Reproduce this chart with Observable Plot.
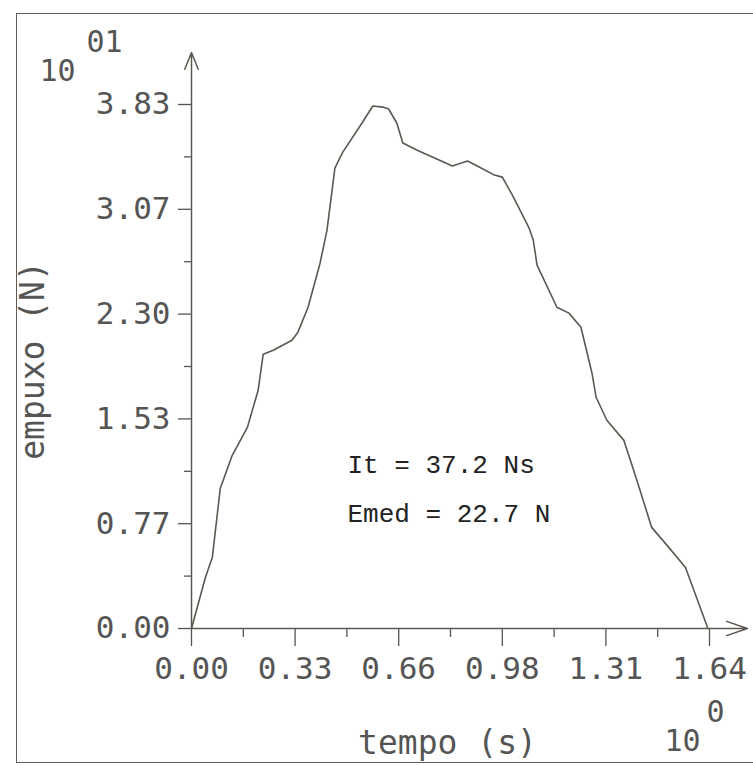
<!DOCTYPE html>
<html><head><meta charset="utf-8">
<script src="https://cdn.jsdelivr.net/npm/d3@7"></script>
<script src="https://cdn.jsdelivr.net/npm/@observablehq/plot@0.6"></script>
<style>
html,body{margin:0;padding:0;background:#fff;}
#wrap{position:relative;width:753px;height:765px;overflow:hidden;}
#frame{position:absolute;left:16px;top:13px;width:737px;height:750px;border:1.5px solid #5f5c55;border-right:none;box-sizing:border-box;pointer-events:none;}
#wrap svg{position:absolute;left:0;top:0;}
</style></head><body><div id="wrap"><div id="frame"></div></div>
<script>
// tempo (s), empuxo (x10 N)
const time = [0, 0.044, 0.066, 0.091, 0.129, 0.177, 0.211, 0.227, 0.259, 0.318, 0.337, 0.369, 0.407, 0.429, 0.454, 0.479, 0.542, 0.574, 0.606, 0.624, 0.650, 0.669, 0.713, 0.826, 0.874, 0.911, 0.959, 0.984, 1.016, 1.069, 1.082, 1.094, 1.157, 1.195, 1.233, 1.268, 1.281, 1.315, 1.369, 1.407, 1.457, 1.511, 1.564, 1.635];
const thrust = [0, 0.373, 0.520, 1.024, 1.266, 1.470, 1.741, 2.005, 2.034, 2.107, 2.166, 2.348, 2.670, 2.912, 3.365, 3.482, 3.702, 3.819, 3.811, 3.797, 3.695, 3.548, 3.497, 3.380, 3.417, 3.373, 3.314, 3.299, 3.168, 2.926, 2.839, 2.656, 2.348, 2.305, 2.202, 1.866, 1.690, 1.522, 1.375, 1.105, 0.739, 0.593, 0.446, 0];

const xTickValues = [0, 0.328, 0.656, 0.984, 1.312, 1.64];
const xTickLabels = ["0.00", "0.33", "0.66", "0.98", "1.31", "1.64"];
const xMinorTicks = [0.164, 0.492, 0.82, 1.148, 1.476];
const yTickValues = [0, 0.766, 1.532, 2.298, 3.064, 3.83];
const yTickLabels = ["0.00", "0.77", "1.53", "2.30", "3.07", "3.83"];
const yMinorTicks = [0.383, 1.149, 1.915, 2.681, 3.447];
const axisEnd = {x: 1.76, y: 4.21};
const notes = ["It = 37.2 Ns", "Emed = 22.7 N"];
const xTitle = "tempo (s)";
const yTitle = "empuxo (N)";
const yExponent = ["10", "01"];
const xExponent = ["10", "0"];

const data = time.map((t, i) => ({t, v: thrust[i]}));
const xLab = new Map(xTickValues.map((d, i) => [d, xTickLabels[i]]));
const yLab = new Map(yTickValues.map((d, i) => [d, yTickLabels[i]]));

const ink = "#5b5850";
const txt = "#555";
const plotter = "DejaVu Sans Mono";

const chart = Plot.plot({
  width: 753,
  height: 765,
  marginLeft: 191,
  marginRight: 44,
  marginTop: 104,
  marginBottom: 137,
  style: {background: "transparent", color: txt},
  x: {domain: [0, 1.64]},
  y: {domain: [0, 3.83]},
  marks: [
    Plot.axisX(xTickValues, {tickSize: 18, tickPadding: 10, tickFormat: d => xLab.get(d), fontSize: 31, fontFamily: plotter, color: txt, strokeWidth: 1.3, label: null}),
    Plot.axisX(xMinorTicks, {tickSize: 9, tickFormat: () => "", color: txt, strokeWidth: 1.3, label: null}),
    Plot.axisY(yTickValues, {tickSize: 13, tickPadding: 8, tickFormat: d => yLab.get(d), fontSize: 31, fontFamily: plotter, color: txt, strokeWidth: 1.3, label: null}),
    Plot.axisY(yMinorTicks, {tickSize: 7, tickFormat: () => "", color: txt, strokeWidth: 1.3, label: null}),
    Plot.arrow([0], {x1: 0, y1: 0, x2: 0, y2: axisEnd.y, stroke: ink, strokeWidth: 1.5, headLength: 18, headAngle: 44}),
    Plot.arrow([0], {x1: 0, y1: 0, x2: axisEnd.x, y2: 0, stroke: ink, strokeWidth: 1.5, headLength: 22, headAngle: 38}),
    Plot.line(data, {x: "t", y: "v", stroke: ink, strokeWidth: 1.6, strokeLinejoin: "round"}),
    Plot.text([notes.join("\n")], {frameAnchor: "top-left", textAnchor: "start", lineAnchor: "bottom", lineHeight: 1.88, dx: 156, dy: 417, fontSize: 26, fontFamily: "Liberation Mono", fill: "#222"}),
    Plot.text([xTitle], {frameAnchor: "bottom", textAnchor: "middle", lineAnchor: "bottom", dx: -3, dy: 125, fontSize: 33, fontFamily: plotter, fill: txt}),
    Plot.text([yTitle], {frameAnchor: "left", textAnchor: "middle", lineAnchor: "middle", rotate: -90, dx: -158, dy: -6, fontSize: 33, fontFamily: plotter, fill: txt}),
    Plot.text([yExponent[0]], {frameAnchor: "top-left", textAnchor: "middle", lineAnchor: "middle", dx: -134, dy: -33, fontSize: 30, fontFamily: plotter, fill: txt}),
    Plot.text([yExponent[1]], {frameAnchor: "top-left", textAnchor: "middle", lineAnchor: "middle", dx: -87, dy: -62, fontSize: 30, fontFamily: plotter, fill: txt}),
    Plot.text([xExponent[0]], {frameAnchor: "bottom-right", textAnchor: "middle", lineAnchor: "middle", dx: -27, dy: 113, fontSize: 30, fontFamily: plotter, fill: txt}),
    Plot.text([xExponent[1]], {frameAnchor: "bottom-right", textAnchor: "middle", lineAnchor: "middle", dx: 6, dy: 84, fontSize: 30, fontFamily: plotter, fill: txt})
  ]
});
document.getElementById("wrap").appendChild(chart);
</script>
</body></html>
